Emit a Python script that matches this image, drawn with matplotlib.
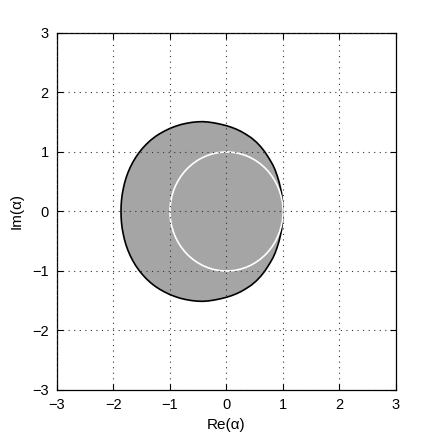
import matplotlib
matplotlib.use("Agg")
from matplotlib import pyplot as plt
from matplotlib.patches import Polygon, Circle

plt.rcParams['font.family'] = ['Liberation Sans', 'DejaVu Sans']

# upper half of the shaded region's boundary
# (the lower half is its mirror image)
RE_UPPER = [1.000, 0.998, 0.993, 0.985, 0.975, 0.955, 0.930, 0.898, 0.860, 0.822,
            0.780, 0.735, 0.680, 0.610, 0.530, 0.440, 0.340, 0.255, 0.170, 0.085,
            0.000, -0.110, -0.220, -0.320, -0.420, -0.519, -0.617, -0.715, -0.811,
            -0.906, -0.999, -1.089, -1.177, -1.261, -1.340, -1.415, -1.484,
            -1.548, -1.606, -1.658, -1.704, -1.744, -1.778, -1.806, -1.828,
            -1.846, -1.858, -1.865, -1.867]
IM_UPPER = [0.000, 0.080, 0.150, 0.230, 0.310, 0.400, 0.500, 0.600, 0.700, 0.780,
            0.850, 0.920, 1.000, 1.085, 1.165, 1.238, 1.300, 1.347, 1.385, 1.416,
            1.442, 1.468, 1.489, 1.503, 1.510, 1.507, 1.497, 1.481, 1.460,
            1.431, 1.397, 1.356, 1.310, 1.258, 1.200, 1.134, 1.064,
            0.989, 0.910, 0.827, 0.742, 0.653, 0.563, 0.471, 0.377,
            0.284, 0.189, 0.095, 0.000]

CIRCLE_CENTER = (0.0, 0.0)
CIRCLE_RADIUS = 1.0

TICKS = [-3, -2, -1, 0, 1, 2, 3]
LIMITS = (-3, 3)

# close the region: upper half right->left, then lower half left->right
upper = list(zip(RE_UPPER, IM_UPPER))
pts = upper + [(x, -y) for x, y in reversed(upper)]

fig = plt.figure(figsize=(4.36, 4.38), dpi=100)
ax = fig.add_axes([0.1307, 0.1096, 0.7775, 0.8151])

region = Polygon(pts, closed=True, facecolor='#a5a5a5', edgecolor='black',
                 linewidth=1.2, joinstyle='round', zorder=1)
ax.add_patch(region)
ax.add_patch(Circle(CIRCLE_CENTER, CIRCLE_RADIUS, fill=False, edgecolor='white',
                    linewidth=1.2, zorder=2))

ax.set_xlim(*LIMITS)
ax.set_ylim(*LIMITS)
ax.set_xticks(TICKS)
ax.set_yticks(TICKS)
labels = ['\u2212%d' % -t if t < 0 else '%d' % t for t in TICKS]
ax.set_xticklabels(labels)
ax.set_yticklabels(labels)

ax.set_axisbelow(False)
ax.grid(True, linestyle=(0, (1, 4)), color='#333333', linewidth=0.8, zorder=3)
ax.tick_params(direction='in', length=4, width=0.8, top=True, right=True,
               labelsize=10.5)
ax.tick_params(axis='x', pad=6)
ax.tick_params(axis='y', pad=6)
for s in ax.spines.values():
    s.set_linewidth(0.9)

ax.set_xlabel('Re(\u03b1)', fontsize=11, labelpad=4)
ax.set_ylabel('Im(\u03b1)', fontsize=11, labelpad=6)

fig.savefig('out.png', dpi=100)
